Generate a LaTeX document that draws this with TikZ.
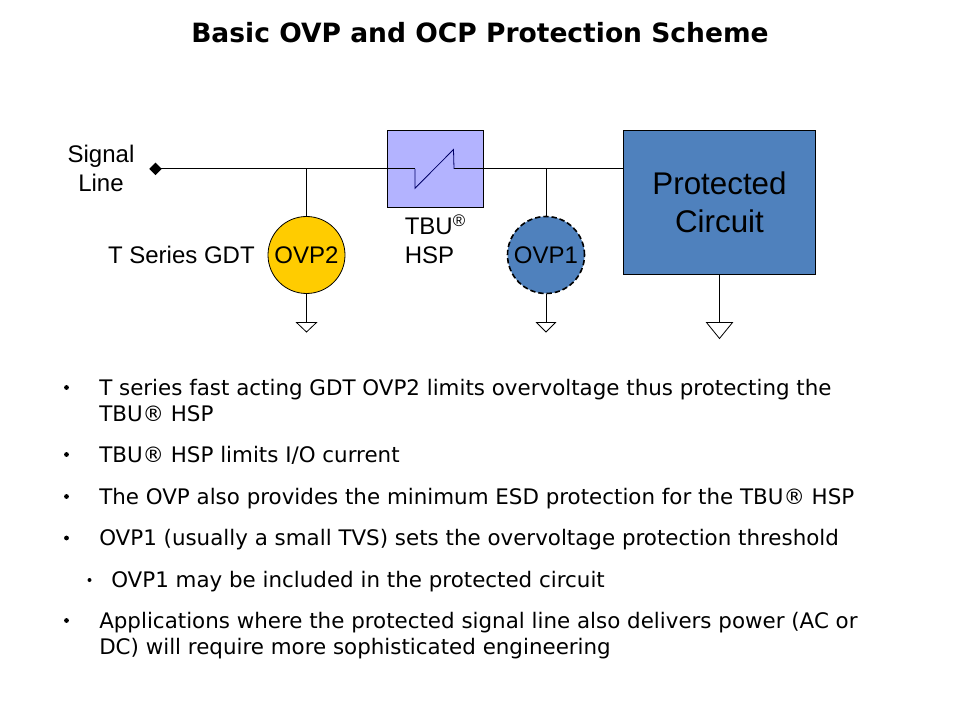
\documentclass[tikz,border=0pt]{standalone}
\usepackage{fontspec}
\setmainfont{Liberation Sans}
\newfontfamily\bodyfont{DejaVu Sans}
\usetikzlibrary{shapes.geometric}
\definecolor{ovpyellow}{RGB}{255,204,0}
\definecolor{ovpblue}{RGB}{79,129,189}
\definecolor{tbufill}{RGB}{179,179,255}
\tikzset{
    label18/.style={font=\fontsize{18}{21.75}\selectfont, inner sep=0pt},
    ovp/.style={circle, draw=black, line width=0.6pt, minimum size=57.75pt, inner sep=0pt, font=\fontsize{18}{21.75}\selectfont},
    bullettext/.style={font=\bodyfont\fontsize{16.05}{19.5}\selectfont, anchor=base west, inner sep=0pt},
    bulletdot/.style={circle, fill=black, inner sep=0pt},
    wire/.style={black, line width=0.75pt},
}

\begin{document}
\begin{tikzpicture}[x=0.75pt, y=-0.75pt]
\useasboundingbox (0, 0) rectangle (960, 720);

% 1. title
\node[font=\bodyfont\bfseries\fontsize{19.9}{24}\selectfont, inner sep=0pt] (title) at (480, 32.5) {Basic OVP and OCP Protection Scheme};

% 2. main parts
\node[diamond, fill=black, minimum size=9.5pt, inner sep=0pt] (sig) at (155.5, 168.8) {};
\node[draw=black, fill=tbufill, line width=0.75pt, minimum width=72pt, minimum height=57.75pt, inner sep=0pt] (tbu) at (435.5, 168.8) {};
\node[draw=black, fill=ovpblue, line width=0.75pt, minimum width=144pt, minimum height=108pt, inner sep=0pt, align=center,
      font=\fontsize{23.5}{28.5}\selectfont] (prot) at (719.5, 202.5) {Protected\\Circuit};
\node[ovp, fill=ovpyellow] (ovp2) at (306.5, 255) {OVP2};
\node[ovp, fill=ovpblue, dash pattern=on 4pt off 2.2pt, line width=1.2pt] (ovp1) at (546, 255) {OVP1};

% 3. labels
\node[label18, align=center] (siglabel) at (101, 168.5) {Signal\\Line};
\node[label18, anchor=east] (gdtlabel) at (255, 255) {T Series GDT};
\node[label18, align=left, anchor=west] (tbulabel) at (404.5, 239.5) {TBU\textsuperscript{\textregistered}\\HSP};

% 4. wires
\coordinate (gnd2) at (306.5, 322.5);
\coordinate (gnd1) at (546, 322.5);
\coordinate (gndp) at (719.5, 322.5);
\draw[wire] (sig.center) -- (tbu.west);
\draw[wire] (tbu.east) -- (tbu.east -| prot.west);
\draw[wire] (ovp2.north) -- (ovp2.north |- sig);
\draw[wire] (ovp1.north) -- (ovp1.north |- tbu);
\draw[wire] (ovp2.south) -- (gnd2);
\draw[wire] (ovp1.south) -- (gnd1);
\draw[wire] (prot.south) -- (gndp);
\foreach \gnd/\w/\h in {gnd2/10/9.5, gnd1/9.5/9.5, gndp/13/16}
    {\draw[black, line width=0.6pt, fill=white] (\gnd) ++(-\w, 0) -- ++(2*\w, 0) -- ++(-\w, \h) -- cycle;
    }

% 5. symbol inside the TBU box
\draw[wire] (tbu.west) -- ++(28, 0) coordinate (zleft);
\draw[wire] (tbu.east) -- ++(-30, 0) coordinate (zright);
\draw[black!60!blue, line width=0.6pt] (zleft) -- ++(0, 19.5) -- (453.5, 149.5) -- (zright);

% 6. bullet list
\foreach \x/\loc/\txt in
    {99/395/{T series fast acting GDT OVP2 limits overvoltage thus protecting the},
     99/421/{TBU® HSP},
     99/462.5/{TBU® HSP limits I/O current},
     99/504/{The OVP also provides the minimum ESD protection for the TBU® HSP},
     99/545.5/{OVP1 (usually a small TVS) sets the overvoltage protection threshold},
     111/587/{OVP1 may be included in the protected circuit},
     99/628/{Applications where the protected signal line also delivers power (AC or},
     99/654/{DC) will require more sophisticated engineering}}
    {\node[bullettext] at (\x, \loc) {\txt};
    }
\foreach \loc in {387.5, 454.5, 496.5, 538, 620.5}
    {\node[bulletdot, minimum size=3.6pt] at (66.5, \loc) {};
    }
\node[bulletdot, minimum size=3pt] (subdot) at (89.5, 580) {};
\end{tikzpicture}
\end{document}
